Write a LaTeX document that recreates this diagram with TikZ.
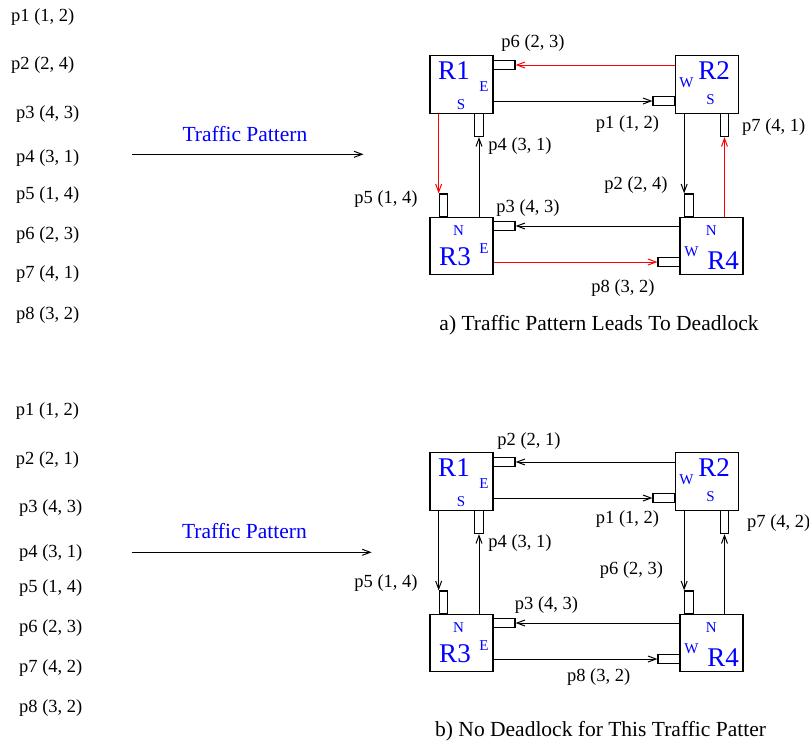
\documentclass[tikz,border=0pt]{standalone}
\usepackage{fontspec}
\setmainfont{Liberation Serif}
\usetikzlibrary{arrows.meta,positioning}

\tikzset{
  router/.style={draw, line width=1.2pt, minimum width=63pt, minimum height=57.5pt, inner sep=0pt},
  hbuf/.style={draw, line width=1.2pt, minimum width=22pt, minimum height=8.5pt, inner sep=0pt},
  vbuf/.style={hbuf, minimum width=8.5pt, minimum height=23pt},
  flow/.style={line width=1pt, -{Straight Barb[length=8pt,width=6pt]}},
  hot/.style={flow, red},
  pkt/.style={font=\fontsize{18.5}{20}\selectfont, inner sep=0pt},
  rname/.style={text=blue, font=\fontsize{27}{28}\selectfont, inner sep=0pt},
  port/.style={text=blue, font=\fontsize{15}{16}\selectfont, inner sep=0pt},
  title/.style={font=\fontsize{21.5}{23}\selectfont, inner sep=0pt},
}

% four routers with their input buffers, names prefixed by #1
\newcommand{\mesh}[1]{%
  \node[router] (#1r1) at (461.5,84.5) {};
  \node[router] (#1r2) at (707,84.5) {};
  \node[router] (#1r3) at (461.5,246) {};
  \node[router] (#1r4) at (711.5,246) {};
  \node[rname] (#1n1) at (454,70.5) {R1};
  \node[rname] (#1n2) at (714,70.5) {R2};
  \node[rname] (#1n3) at (455,256.5) {R3};
  \node[rname] (#1n4) at (723,261) {R4};
  \node[port] (#1e1) at (484,86.7) {E};
  \node[port] (#1s1) at (461,104.7) {S};
  \node[port] (#1w2) at (686.5,82.5) {W};
  \node[port] (#1s2) at (710.5,99.5) {S};
  \node[port] (#1t3) at (458.5,230.5) {N};
  \node[port] (#1e3) at (484,248.5) {E};
  \node[port] (#1t4) at (711.3,230.8) {N};
  \node[port] (#1w4) at (691.5,251.3) {W};
  \node[hbuf] (#1bE1) at (504,65) {};
  \node[hbuf] (#1bW2) at (664,101) {};
  \node[vbuf] (#1bS1) at (479,125) {};
  \node[vbuf] (#1bS2) at (724.5,125) {};
  \node[vbuf] (#1bN3) at (443.5,205.5) {};
  \node[vbuf] (#1bN4) at (689,205.5) {};
  \node[hbuf] (#1bE3) at (504,226) {};
  \node[hbuf] (#1bW4) at (669,262) {};
}

\begin{document}
\begin{tikzpicture}[x=1pt,y=-1pt]
  \useasboundingbox (0,0) rectangle (809,745);

  % a) deadlock
  \foreach \i/\t/\x/\y in {1/{(1, 2)}/11/16.7, 2/{(2, 4)}/11/65, 3/{(4, 3)}/16/114.3,
      4/{(3, 1)}/16/158.3, 5/{(1, 4)}/16/195, 6/{(2, 3)}/16/235, 7/{(4, 1)}/16/274.3,
      8/{(3, 2)}/16/315}
    \node[pkt, anchor=west] (al\i) at (\x,\y) {p\i{} \t};
  \coordinate (aT0) at (131.5,154.3);
  \coordinate (aT1) at (363.5,154.3);
  \draw[flow] (aT0) -- (aT1);
  \node[pkt, text=blue, font=\fontsize{21.5}{23}\selectfont] (aTl) at (245,134.3) {Traffic Pattern};

  \mesh{a}
  \draw[hot]  (ar2.west |- abE1.east) -- (abE1.east);
  \draw[flow] (ar1.east |- abW2.west) -- (abW2.west);
  \draw[hot]  (ar1.south -| abN3.north west) -- (abN3.north west);
  \draw[flow] (ar3.north -| abS1.south) -- (abS1.south);
  \draw[flow] (ar2.south -| abN4.north west) -- (abN4.north west);
  \draw[hot]  (ar4.north -| abS2.south) -- (abS2.south);
  \draw[flow] (ar4.west |- abE3.east) -- (abE3.east);
  \draw[hot]  (ar3.east |- abW4.west) -- (abW4.west);
  \node[pkt] (ap6) at (533,42.7) {p6 (2, 3)};
  \node[pkt] (ap1) at (627.5,124) {p1 (1, 2)};
  \node[pkt, anchor=west] (ap7) at (742,126.7) {p7 (4, 1)};
  \node[pkt] (ap4) at (520,145.7) {p4 (3, 1)};
  \node[pkt] (ap2) at (636,185) {p2 (2, 4)};
  \node[pkt] (ap5) at (386,199.3) {p5 (1, 4)};
  \node[pkt] (ap3) at (528,208.3) {p3 (4, 3)};
  \node[pkt] (ap8) at (623,287.7) {p8 (3, 2)};
  \node[title] (acap) at (599,325.7) {a) Traffic Pattern Leads To Deadlock};

  % b) no deadlock
  \foreach \i/\t/\x/\y in {1/{(1, 2)}/15.7/410.7, 2/{(2, 1)}/15.7/460, 3/{(4, 3)}/19/508.3,
      4/{(3, 1)}/19/553.3, 5/{(1, 4)}/19/588.3, 6/{(2, 3)}/19/628.3, 7/{(4, 2)}/19/668.3,
      8/{(3, 2)}/19/708.3}
    \node[pkt, anchor=west] (bl\i) at (\x,\y) {p\i{} \t};
  \coordinate (bT0) at (131.5,552.3);
  \coordinate (bT1) at (371.7,552.3);
  \draw[flow] (bT0) -- (bT1);
  \node[pkt, text=blue, font=\fontsize{21.5}{23}\selectfont] (bTl) at (244.5,531) {Traffic Pattern};

  \begin{scope}[shift={(0,397)}]
    \mesh{b}
    \draw[flow] (br2.west |- bbE1.east) -- (bbE1.east);
    \draw[flow] (br1.east |- bbW2.west) -- (bbW2.west);
    \draw[flow] (br1.south -| bbN3.north west) -- (bbN3.north west);
    \draw[flow] (br3.north -| bbS1.south) -- (bbS1.south);
    \draw[flow] (br2.south -| bbN4.north west) -- (bbN4.north west);
    \draw[flow] (br4.north -| bbS2.south) -- (bbS2.south);
    \draw[flow] (br4.west |- bbE3.east) -- (bbE3.east);
    \draw[flow] (br3.east |- bbW4.west) -- (bbW4.west);
    \node[pkt] (bp2) at (529,43.7) {p2 (2, 1)};
    \node[pkt] (bp1) at (627.5,122.3) {p1 (1, 2)};
    \node[pkt, anchor=west] (bp7) at (747,126.3) {p7 (4, 2)};
    \node[pkt] (bp4) at (520,145.7) {p4 (3, 1)};
    \node[pkt] (bp6) at (631.5,173) {p6 (2, 3)};
    \node[pkt] (bp5) at (386,186.3) {p5 (1, 4)};
    \node[pkt] (bp3) at (546.5,208) {p3 (4, 3)};
    \node[pkt] (bp8) at (598.7,279.7) {p8 (3, 2)};
  \end{scope}
  \node[title, anchor=west] (bcap) at (435,731.7) {b) No Deadlock for This Traffic Patter};
\end{tikzpicture}
\end{document}
